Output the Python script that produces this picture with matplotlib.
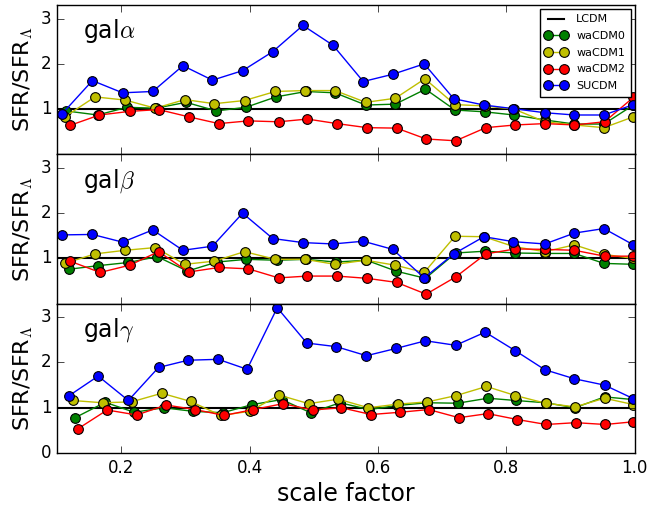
import matplotlib
matplotlib.use("Agg")
import matplotlib.pyplot as plt

plt.style.use("classic")
plt.rcParams["mathtext.fontset"] = "cm"
plt.rcParams["font.family"] = ["DejaVu Sans"]

series_names = ["waCDM0", "waCDM1", "waCDM2", "SUCDM"]
series_colors = ["g", "y", "r", "b"]
panel_labels = [r"gal$\alpha$", r"gal$\beta$", r"gal$\gamma$"]
x_ticks = [0.2, 0.4, 0.6, 0.8, 1.0]
x_tick_labels = ["0.2", "0.4", "0.6", "0.8", "1.0"]

# ---------- panel alpha ----------
a_x_w0 = [0.114, 0.163, 0.209, 0.254, 0.301, 0.348, 0.394, 0.441, 0.488, 0.533,
          0.581, 0.627, 0.674, 0.720, 0.766, 0.812, 0.860, 0.906, 0.952, 0.998]
a_y_w0 = [0.96, 0.87, 1.04, 1.02, 1.15, 0.96, 1.04, 1.27, 1.39, 1.36,
          1.09, 1.11, 1.44, 0.98, 0.94, 0.87, 0.76, 0.67, 0.67, 1.09]
a_x_w1 = [0.112, 0.159, 0.206, 0.253, 0.299, 0.345, 0.392, 0.440, 0.486, 0.533,
          0.581, 0.627, 0.673, 0.720, 0.766, 0.812, 0.860, 0.906, 0.952, 0.998]
a_y_w1 = [0.83, 1.27, 1.20, 1.02, 1.21, 1.12, 1.19, 1.39, 1.41, 1.41,
          1.15, 1.24, 1.67, 1.10, 1.07, 1.00, 0.72, 0.65, 0.59, 0.83]
a_x_w2 = [0.120, 0.166, 0.213, 0.258, 0.305, 0.352, 0.398, 0.445, 0.490, 0.536,
          0.583, 0.629, 0.675, 0.721, 0.768, 0.814, 0.860, 0.906, 0.953, 0.998]
a_y_w2 = [0.64, 0.87, 0.95, 0.99, 0.83, 0.68, 0.74, 0.72, 0.78, 0.68,
          0.59, 0.58, 0.34, 0.30, 0.59, 0.65, 0.68, 0.65, 0.72, 1.26]
a_x_su = [0.108, 0.155, 0.202, 0.249, 0.296, 0.342, 0.389, 0.436, 0.483, 0.530,
          0.577, 0.623, 0.672, 0.718, 0.765, 0.811, 0.860, 0.906, 0.952, 0.998]
a_y_su = [0.90, 1.63, 1.36, 1.39, 1.96, 1.64, 1.85, 2.27, 2.85, 2.41,
          1.61, 1.77, 2.00, 1.23, 1.09, 1.01, 0.92, 0.87, 0.87, 1.10]

# ---------- panel beta ----------
b_x_w0 = [0.118, 0.164, 0.211, 0.256, 0.303, 0.349, 0.395, 0.442, 0.488, 0.534,
          0.582, 0.628, 0.674, 0.721, 0.767, 0.813, 0.860, 0.906, 0.952, 0.998]
b_y_w0 = [0.76, 0.84, 0.91, 1.04, 0.72, 0.92, 0.98, 0.96, 0.98, 0.92,
          0.96, 0.72, 0.56, 1.12, 1.16, 1.12, 1.11, 1.11, 0.89, 0.87]
b_x_w1 = [0.112, 0.159, 0.206, 0.253, 0.299, 0.345, 0.392, 0.440, 0.486, 0.533,
          0.581, 0.627, 0.672, 0.720, 0.765, 0.812, 0.860, 0.906, 0.952, 0.998]
b_y_w1 = [0.89, 1.10, 1.18, 1.24, 0.87, 0.94, 1.15, 0.98, 0.98, 0.87,
          0.96, 0.85, 0.69, 1.49, 1.48, 1.26, 1.15, 1.30, 1.09, 1.00]
b_x_w2 = [0.120, 0.167, 0.213, 0.258, 0.305, 0.352, 0.398, 0.445, 0.490, 0.536,
          0.583, 0.629, 0.675, 0.721, 0.768, 0.814, 0.860, 0.906, 0.953, 0.998]
b_y_w2 = [0.94, 0.69, 0.85, 1.15, 0.70, 0.80, 0.77, 0.57, 0.61, 0.61,
          0.56, 0.47, 0.21, 0.59, 1.10, 1.21, 1.20, 1.18, 1.05, 1.05]
b_x_su = a_x_su
b_y_su = [1.52, 1.53, 1.36, 1.63, 1.18, 1.27, 2.00, 1.44, 1.35, 1.32,
          1.38, 1.20, 0.57, 1.10, 1.48, 1.37, 1.32, 1.56, 1.66, 1.30]

# ---------- panel gamma ----------
c_x_w0 = [0.128, 0.175, 0.220, 0.266, 0.312, 0.358, 0.404, 0.450, 0.495, 0.541,
          0.586, 0.630, 0.677, 0.724, 0.771, 0.815, 0.861, 0.907, 0.953, 0.998]
c_y_w0 = [0.78, 1.12, 0.90, 1.00, 0.92, 0.89, 1.07, 1.18, 0.89, 1.11,
          0.96, 1.05, 1.11, 1.10, 1.21, 1.16, 1.11, 1.00, 1.24, 1.18]
c_x_w1 = [0.124, 0.171, 0.216, 0.263, 0.308, 0.355, 0.400, 0.446, 0.492, 0.538,
          0.585, 0.631, 0.677, 0.722, 0.769, 0.814, 0.861, 0.907, 0.953, 0.998]
c_y_w1 = [1.16, 1.11, 1.13, 1.32, 1.14, 0.83, 0.92, 1.28, 1.09, 1.19,
          1.00, 1.08, 1.13, 1.27, 1.47, 1.27, 1.10, 1.02, 1.21, 1.07]
c_x_w2 = [0.133, 0.178, 0.224, 0.270, 0.315, 0.360, 0.406, 0.452, 0.498, 0.543,
          0.589, 0.634, 0.679, 0.726, 0.771, 0.817, 0.862, 0.908, 0.954, 0.998]
c_y_w2 = [0.54, 0.95, 0.84, 1.06, 0.96, 0.83, 0.96, 1.09, 0.95, 1.00,
          0.85, 0.90, 0.96, 0.78, 0.87, 0.74, 0.63, 0.67, 0.63, 0.69]
c_x_su = [0.118, 0.164, 0.211, 0.258, 0.304, 0.351, 0.396, 0.443, 0.489, 0.535,
          0.582, 0.628, 0.674, 0.721, 0.767, 0.814, 0.860, 0.906, 0.953, 0.998]
c_y_su = [1.26, 1.70, 1.16, 1.89, 2.05, 2.07, 1.85, 3.21, 2.43, 2.35,
          2.15, 2.31, 2.48, 2.38, 2.67, 2.26, 1.84, 1.64, 1.50, 1.20]

lcdm_level = 1.0

panels = [
    [(a_x_w0, a_y_w0), (a_x_w1, a_y_w1), (a_x_w2, a_y_w2), (a_x_su, a_y_su)],
    [(b_x_w0, b_y_w0), (b_x_w1, b_y_w1), (b_x_w2, b_y_w2), (b_x_su, b_y_su)],
    [(c_x_w0, c_y_w0), (c_x_w1, c_y_w1), (c_x_w2, c_y_w2), (c_x_su, c_y_su)],
]

fig = plt.figure(figsize=(6.49, 5.05), dpi=100, facecolor="white")
left, right, bottom, top = 0.088, 0.978, 0.103, 0.990
h = (top - bottom) / 3.0

for i, data in enumerate(panels):
    ax = fig.add_axes([left, top - (i + 1) * h, right - left, h])
    ax.axhline(lcdm_level, color="k", lw=1.5, label="LCDM")
    for (xs, ys), name, col in zip(data, series_names, series_colors):
        ax.plot(xs, ys, "-o", color=col, mfc=col, mec="k", mew=0.8,
                ms=7, lw=1.0, label=name)
    ax.set_xlim(0.1, 1.0)
    ax.set_ylim(0, 3.3)
    ax.set_xticks(x_ticks)
    ax.set_yticks([0, 1, 2, 3])
    if i < 2:
        ax.set_yticklabels(["", "1", "2", "3"])
        ax.set_xticklabels([])
    else:
        ax.set_yticklabels(["0", "1", "2", "3"])
        ax.set_xticklabels(x_tick_labels)
        ax.set_xlabel("scale factor", fontsize=17, labelpad=4)
    ax.tick_params(labelsize=12, direction="in", length=5)
    ax.set_ylabel(r"SFR/SFR$_\Lambda$", fontsize=16, labelpad=4)
    ax.text(0.045, 0.78, panel_labels[i], transform=ax.transAxes, fontsize=17)
    if i == 0:
        ax.legend(loc="upper right", fontsize=8, numpoints=2,
                  borderaxespad=0.35, handlelength=2.0, labelspacing=0.6,
                  borderpad=0.5, handletextpad=0.8)

fig.savefig("out.png", dpi=100, facecolor="white")
